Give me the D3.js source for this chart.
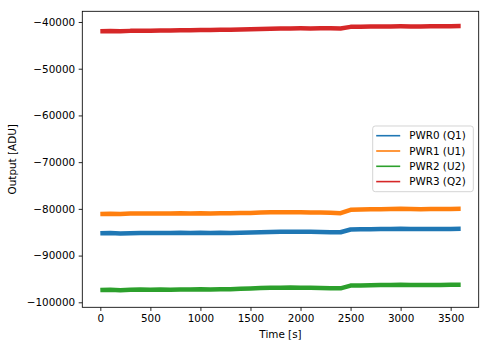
<!DOCTYPE html>
<html lang="en">
<head>
    <meta charset="utf-8">
    <title>Output vs time</title>
    <script src="https://d3js.org/d3.v7.min.js"></script>
    <style>
        body { margin: 0; background: #fff; }
        text { font-family: 'DejaVu Sans', sans-serif; fill: #000; }
    </style>
</head>
<body>
    <div id="chartDiv"></div>

<script>
/* global d3 */

// time samples (s), every 100 s
var times = [0, 100, 200, 300, 400, 500, 600, 700, 800, 900,
    1000, 1100, 1200, 1300, 1400, 1500, 1600, 1700, 1800, 1900,
    2000, 2100, 2200, 2300, 2400, 2500, 2600, 2700, 2800, 2900,
    3000, 3100, 3200, 3300, 3400, 3500, 3600];

var seriesNames = ["PWR0 (Q1)", "PWR1 (U1)", "PWR2 (U2)", "PWR3 (Q2)"];
var seriesColors = ["#1f77b4", "#ff7f0e", "#2ca02c", "#d62728"];

var pwr0 = [-85230, -85180, -85260, -85200, -85150, -85190, -85140, -85170, -85120, -85160,
    -85130, -85170, -85110, -85140, -85090, -85060, -85000, -84930, -84900, -84880,
    -84920, -84900, -84950, -84980, -85010, -84420, -84380, -84350, -84320, -84290,
    -84260, -84300, -84320, -84290, -84330, -84300, -84280];

var pwr1 = [-81090, -81050, -81120, -81000, -80980, -81010, -80970, -81000, -80960, -80990,
    -80950, -80980, -80940, -80960, -80900, -80860, -80800, -80740, -80720, -80700,
    -80740, -80760, -80800, -80850, -80920, -80200, -80150, -80100, -80070, -80040,
    -80000, -80030, -80060, -80020, -80050, -80010, -80000];

var pwr2 = [-97370, -97300, -97420, -97330, -97280, -97320, -97260, -97300, -97240, -97270,
    -97220, -97250, -97190, -97200, -97120, -97050, -96950, -96880, -96860, -96840,
    -96870, -96900, -96940, -96980, -97010, -96420, -96380, -96350, -96320, -96290,
    -96260, -96300, -96320, -96280, -96300, -96260, -96250];

var pwr3 = [-41990, -41950, -41980, -41900, -41870, -41890, -41840, -41800, -41780, -41760,
    -41720, -41700, -41660, -41640, -41600, -41560, -41500, -41450, -41400, -41380,
    -41360, -41370, -41340, -41360, -41380, -41040, -41010, -40990, -40970, -40950,
    -40930, -40950, -40940, -40920, -40930, -40900, -40880];

var xTicks = [0, 500, 1000, 1500, 2000, 2500, 3000, 3500];
var yTicks = [-100000, -90000, -80000, -70000, -60000, -50000, -40000];

var width = 489,
    height = 347,
    margin = {top: 11.3, right: 10.3, bottom: 39.7, left: 82.3};

var svg = d3.select('#chartDiv')
    .append('svg')
    .attr('width', width)
    .attr('height', height);

var x = d3.scaleLinear()
    .domain([-180, 3780])
    .range([margin.left, width - margin.right]);

var y = d3.scaleLinear()
    .domain([-101070, -37710])
    .range([height - margin.bottom, margin.top]);

var fontSize = '10.4px';

var line = d3.line()
    .x(function(d) { return x(d[0]); })
    .y(function(d) { return y(d[1]); });

var allSeries = [pwr0, pwr1, pwr2, pwr3];

allSeries.forEach(function(vals, i) {
    var pts = times.map(function(t, j) { return [t, vals[j]]; });
    svg.append('path')
        .attr('d', line(pts))
        .attr('fill', 'none')
        .attr('stroke', seriesColors[i])
        .attr('stroke-width', 4.5)
        .attr('stroke-linejoin', 'round');
});

// axes
var xAxis = svg.append('g')
    .attr('transform', 'translate(0,' + (height - margin.bottom) + ')')
    .call(d3.axisBottom(x).tickValues(xTicks).tickSize(3.6).tickPadding(3.6)
        .tickFormat(d3.format('d')));

var yAxis = svg.append('g')
    .attr('transform', 'translate(' + margin.left + ',0)')
    .call(d3.axisLeft(y).tickValues(yTicks).tickSize(3.6).tickPadding(3.6)
        .tickFormat(function(d) { return d3.format('d')(d).replace('-', '\u2212'); }));

[xAxis, yAxis].forEach(function(g) {
    g.select('.domain').remove();
    g.selectAll('line').attr('stroke', '#000').attr('stroke-width', 0.85);
    g.selectAll('text').style('font-size', fontSize).attr('fill', '#000');
});

// frame
svg.append('rect')
    .attr('x', margin.left)
    .attr('y', margin.top)
    .attr('width', width - margin.left - margin.right)
    .attr('height', height - margin.top - margin.bottom)
    .attr('fill', 'none')
    .attr('stroke', '#000')
    .attr('stroke-width', 0.85);

svg.append('text')
    .attr('x', (margin.left + width - margin.right) / 2)
    .attr('y', 337.5)
    .attr('text-anchor', 'middle')
    .style('font-size', fontSize)
    .text('Time [s]');

svg.append('text')
    .attr('transform', 'translate(16,' + ((margin.top + height - margin.bottom) / 2) + ') rotate(-90)')
    .attr('text-anchor', 'middle')
    .style('font-size', fontSize)
    .text('Output [ADU]');

// legend
var legend = svg.append('g').attr('transform', 'translate(372.7,126)');

legend.append('rect')
    .attr('width', 100.6)
    .attr('height', 65.7)
    .attr('rx', 2.5)
    .attr('fill', '#fff')
    .attr('fill-opacity', 0.8)
    .attr('stroke', '#ccc')
    .attr('stroke-width', 0.85);

seriesNames.forEach(function(name, i) {
    var cy = 9.7 + i * 15.3;
    legend.append('line')
        .attr('x1', 3.5).attr('x2', 27.5)
        .attr('y1', cy).attr('y2', cy)
        .attr('stroke', seriesColors[i])
        .attr('stroke-width', 1.6);
    legend.append('text')
        .attr('x', 36.5)
        .attr('y', cy)
        .attr('dy', '0.36em')
        .style('font-size', fontSize)
        .text(name);
});

</script>
</body>
</html>
